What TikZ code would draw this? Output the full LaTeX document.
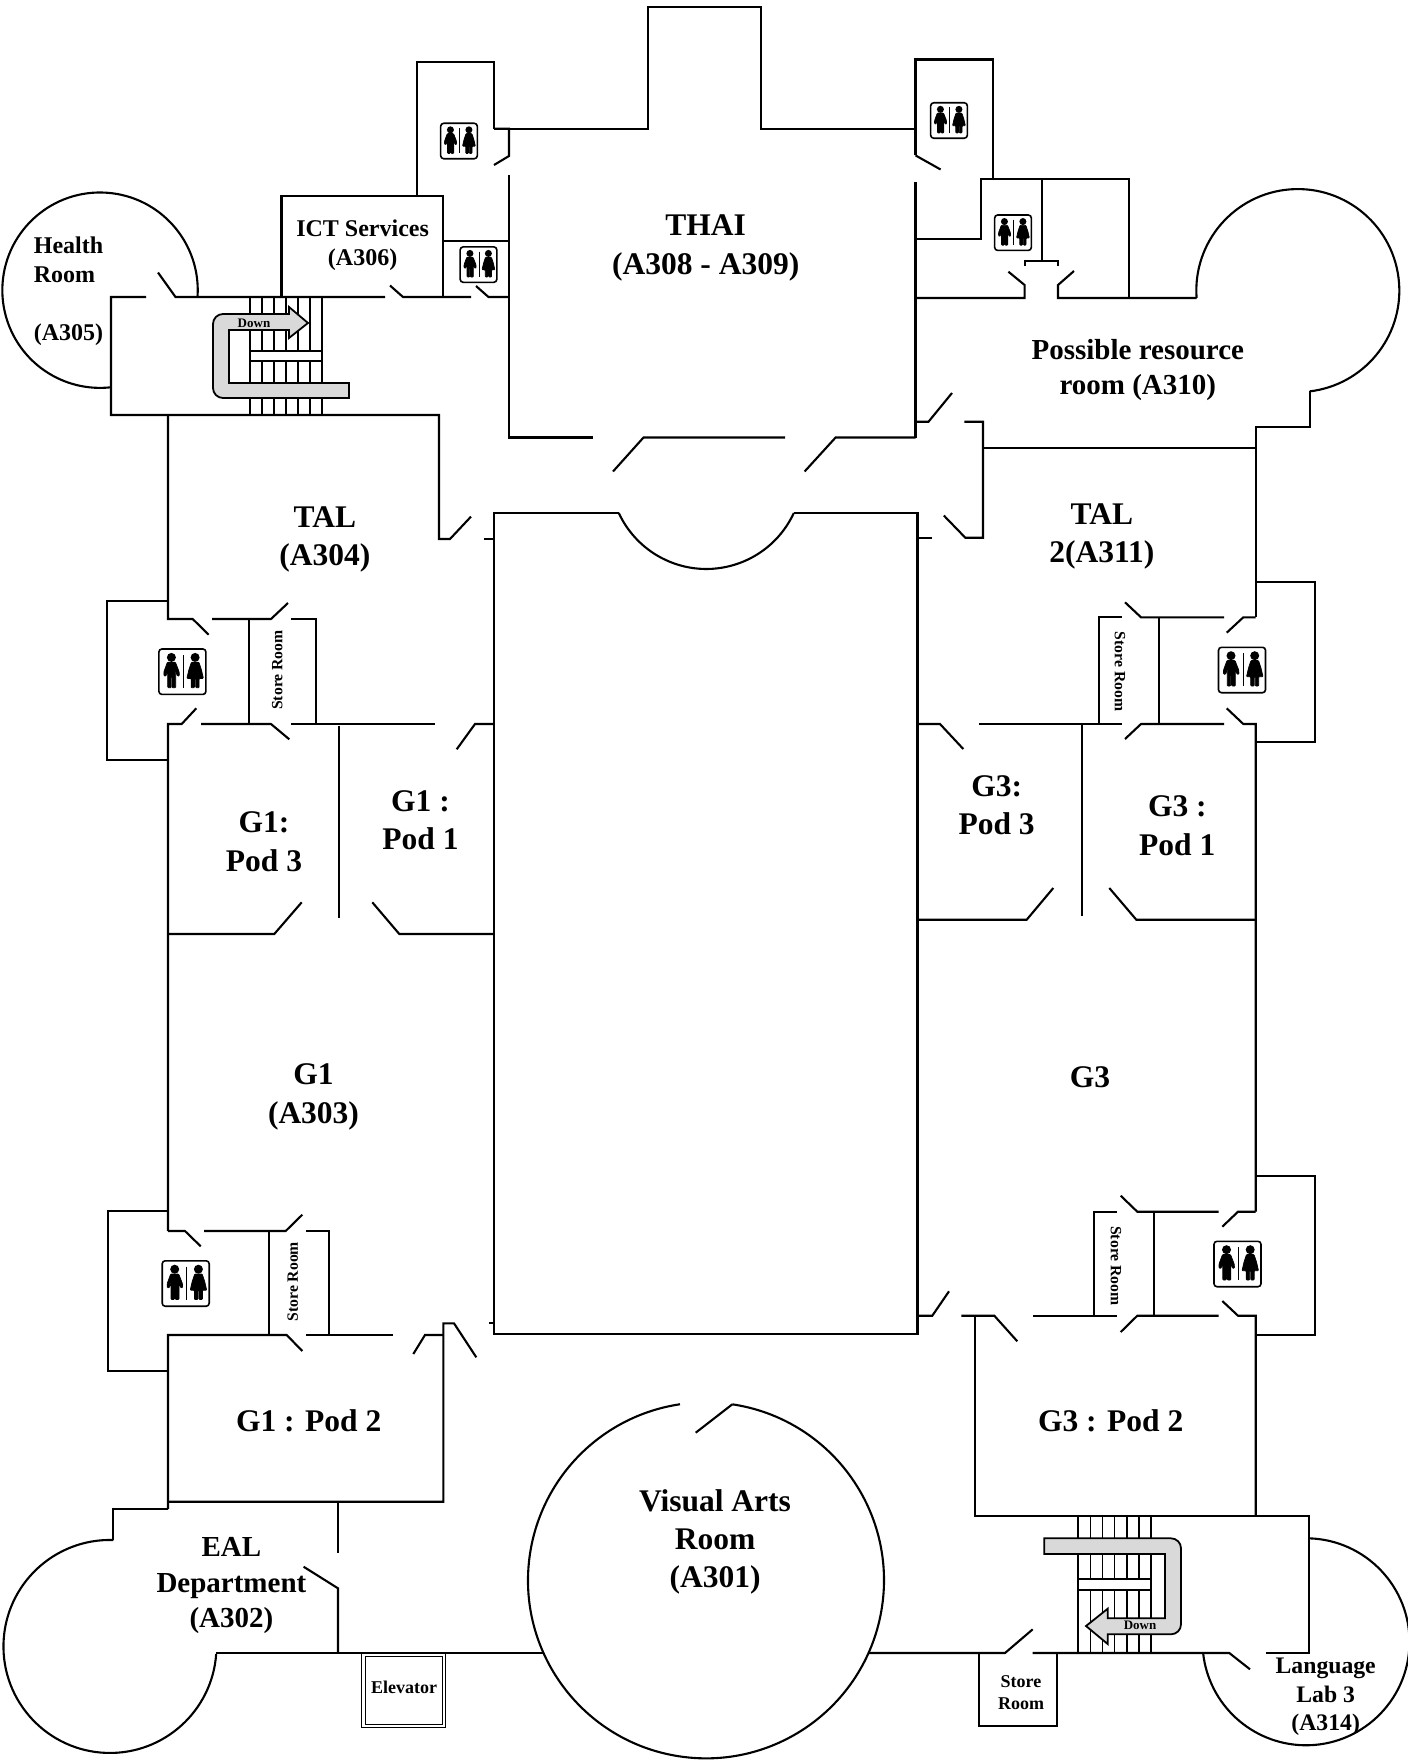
\documentclass[tikz,border=0pt]{standalone}
\usepackage{fontspec}
\setmainfont{Liberation Serif}
\usepackage{xcolor}

\newcommand{\wcsign}[3]{%
  \begin{scope}[shift={(#1,#2)},scale=#3]
    \draw [line width=1.6pt, rounded corners=3pt] (-23.5,-22.7) rectangle (23.5,22.7);
    \fill (-11,-14.3) circle [radius=4.5];
    \fill (12.7,-14.3) circle [radius=4.5];
    \filldraw [line width=0.7pt, rounded corners=0.8pt] (-15,-9.5) -- (-7,-9.5) -- (-3.3,0) -- (-3,4) -- (-4.8,4.5) -- (-6.7,-1) -- (-6.7,16) -- (-10.3,16) -- (-10.3,5)
      -- (-11.3,5) -- (-11.3,16) -- (-14.7,16) -- (-14.7,-1) -- (-16.6,4.5) -- (-18.5,4) -- (-18.5,0) -- cycle;
    \filldraw [line width=0.7pt, rounded corners=0.8pt] (9,-9.5) -- (16.5,-9.5) -- (19,-2) -- (21,6.7) -- (16.7,6.7) -- (16.7,16) -- (13.3,16)
      -- (13.3,6.7) -- (12.1,6.7) -- (12.1,16) -- (8.7,16) -- (8.7,6.7) -- (4.5,6.7) -- (6.5,-2) -- cycle;
    \draw [line width=1pt] (1,-16.7) -- (1,16);
  \end{scope}%
}

\begin{document}
\begin{tikzpicture}[
  x=1pt, y=-1pt,
  wall/.style={line width=2.1pt, line join=miter},
  stepline/.style={line width=1.7pt},
  downarrow/.style={line width=1.8pt, fill=gray!30, draw=black},
  rmlabel/.style={font=\bfseries\fontsize{31.5}{38.5}\selectfont, align=center, inner sep=0pt},
  rmmid/.style={font=\bfseries\fontsize{29}{35.5}\selectfont, align=center, inner sep=0pt},
  rmsmall/.style={font=\bfseries\fontsize{24}{29}\selectfont, align=center, inner sep=0pt},
  rmtiny/.style={font=\bfseries\fontsize{18}{22}\selectfont, align=center, inner sep=0pt},
  rmside/.style={font=\bfseries\fontsize{15.7}{18}\selectfont, inner sep=0pt},
  rmdown/.style={font=\bfseries\fontsize{13}{15}\selectfont, inner sep=0pt}
]

\useasboundingbox (0,0) rectangle (1408,1762);

% centre block and thai room
\draw [wall] (618.8,513) -- (494,513) -- (494,1334) -- (917.5,1334) -- (917.5,513) -- (793.8,513);
\draw [wall] (793.8,513) arc [start angle=24.8, end angle=155.2, radius=96.4];
\draw [wall] (494,128.6) -- (648,128.6) -- (648,7) -- (761,7) -- (761,128.6) -- (915.5,128.6);
\draw [wall] (494,128.6) -- (509,128.6) -- (509,156) -- (494,165);
\draw [wall] (509,175) -- (509,437.5) -- (593,437.5);
\draw [wall] (613,471.5) -- (643.5,437.5) -- (785,437.5);
\draw [wall] (804.6,471.5) -- (835.6,437.5) -- (915.5,437.5);
\draw [wall] (915.5,182) -- (915.5,437.5);
\draw [wall] (915.5,155.4) -- (940.6,169.5);

% top left
\draw [wall] (417,196) -- (417,61.6) -- (494,61.6) -- (494,128.6);
\draw [wall] (281.5,297) -- (281.5,196) -- (443,196) -- (443,297);
\draw [wall] (443,241) -- (509,241);
\draw [wall] (197.5,297) arc [start angle=4, end angle=-276.4, radius=97.7];
\draw [wall] (146,297) -- (111,297) -- (111,415) -- (439,415) -- (439,539) -- (450,539) -- (471,516.6);
\draw [wall] (158,272.5) -- (175.5,297) -- (385,297);
\draw [wall] (390,285.5) -- (403,297) -- (471,297);
\draw [wall] (476,286) -- (488.5,297) -- (509,297);
\draw [wall] (483.6,539) -- (494,539);

% top right
\draw [wall] (915.5,155.4) -- (915.5,59.5) -- (993,59.5) -- (993,179);
\draw [wall] (915.5,239) -- (980.6,239) -- (980.6,179) -- (1129,179) -- (1129,298);
\draw [wall] (1042,179) -- (1042,261.4);
\draw [wall] (1024.6,266) -- (1024.6,261.4) -- (1058,261.4) -- (1058,266);
\draw [wall] (915.5,298) -- (1024.6,298) -- (1024.6,285) -- (1008.4,271.7);
\draw [wall] (1074,271) -- (1058,285) -- (1058,298) -- (1196.6,298);
\draw [wall] (1196.6,298) arc [start angle=175.8, end angle=443.3, radius=101.5];
\draw [wall] (1309.8,391) -- (1309.8,427) -- (1255.7,427) -- (1255.7,617.3);
\draw [wall] (983,448) -- (1255.7,448);
\draw [wall] (964.4,421.7) -- (983,421.7) -- (983,537.7) -- (965.3,537.7) -- (943.8,515.5);
\draw [wall] (915.5,421.7) -- (928.5,421.7) -- (952,393);
\draw [wall] (917.5,537.7) -- (931.7,537.7);

% left side upper
\draw [wall] (168,415) -- (168,619) -- (192.7,619) -- (208.7,634.7);
\draw [wall] (212,619) -- (271,619) -- (288,603);
\draw [wall] (291,619) -- (315.7,619) -- (315.7,724);
\draw [wall] (168,600.7) -- (106.7,600.7) -- (106.7,760) -- (168,760);
\draw [wall] (249.3,619) -- (249.3,724);
\draw [wall] (168,1231) -- (168,724) -- (181.7,724) -- (196.3,708.3);
\draw [wall] (201,724) -- (271,724) -- (289.3,739.3);
\draw [wall] (291,724) -- (435,724);
\draw [wall] (456.7,749.3) -- (475,724) -- (494,724);
\draw [wall] (339,725.7) -- (339,917.7);
\draw [wall] (168,934) -- (274.3,934) -- (301.7,902.3);
\draw [wall] (494,934) -- (399.3,934) -- (372.3,902.3);

% left side lower
\draw [wall] (168,1211) -- (108.3,1211) -- (108.3,1371) -- (168,1371);
\draw [wall] (168,1231) -- (185,1231) -- (200.7,1246.3);
\draw [wall] (204,1231) -- (285.7,1231) -- (302.3,1214.7);
\draw [wall] (306,1231) -- (328.7,1231) -- (328.7,1335);
\draw [wall] (268.7,1231) -- (268.7,1335);
\draw [wall] (168,1509) -- (168,1335) -- (286.7,1335) -- (302.3,1351);
\draw [wall] (306,1335) -- (392.7,1335);
\draw [wall] (413.3,1354) -- (425,1335) -- (443.3,1335);
\draw [wall] (476.3,1357.3) -- (454,1323.3) -- (443.3,1323.3) -- (443.3,1501.7) -- (168,1501.7);
\draw [wall] (489.3,1323.3) -- (494,1323.3);

% bottom left
\draw [wall] (168,1509) -- (113.3,1509) -- (113.3,1540);
\draw [wall] (113.3,1540) arc [start angle=-88.2, end angle=-356, radius=106.5];
\draw [wall] (338,1501.7) -- (338,1553.3);
\draw [wall] (303.6,1566.7) -- (338,1588.3) -- (338,1653);
\draw [wall] (216,1653) -- (543,1653);

% visual arts room
\draw [wall] (732.3,1404.3) arc [start angle=-81.5, end angle=261.6, radius=178];
\draw [wall] (732.3,1404.3) -- (695.7,1432.7);

% right side upper
\draw [wall] (1122,724) -- (979,724);
\draw [wall] (918,724) -- (940,724) -- (963.3,749);
\draw [wall] (1125,739) -- (1141,724) -- (1224,724);
\draw [wall] (1226.7,708.3) -- (1243.3,724) -- (1255.7,724) -- (1255.7,1211.7);
\draw [wall] (1082,724) -- (1082,916.3);
\draw [wall] (1098.7,724) -- (1098.7,617.3) -- (1122,617.3);
\draw [wall] (1125,602.3) -- (1141,617.3) -- (1224,617.3);
\draw [wall] (1226.7,632.7) -- (1243.3,617.3) -- (1255.7,617.3);
\draw [wall] (1158.7,617.3) -- (1158.7,724);
\draw [wall] (1255.7,581.7) -- (1315,581.7) -- (1315,741.7) -- (1255.7,741.7);
\draw [wall] (918,919.7) -- (1026.7,919.7) -- (1053.3,888);
\draw [wall] (1255.7,919.7) -- (1136.3,919.7) -- (1109.3,888);

% right side lower
\draw [wall] (1255.7,1175.7) -- (1314.7,1175.7) -- (1314.7,1335.3) -- (1255.7,1335.3);
\draw [wall] (1116.7,1211.7) -- (1094,1211.7) -- (1094,1315.7);
\draw [wall] (1120.7,1195.7) -- (1137.3,1211.7) -- (1218.7,1211.7);
\draw [wall] (1222.3,1226.7) -- (1238,1211.7) -- (1255.7,1211.7);
\draw [wall] (1154.3,1211.7) -- (1154.3,1315.7);
\draw [wall] (1033.3,1315.7) -- (1116.7,1315.7);
\draw [wall] (1120.7,1332) -- (1137.3,1315.7) -- (1218.7,1315.7);
\draw [wall] (1222.3,1301) -- (1238,1315.7) -- (1255.7,1315.7) -- (1255.7,1516);
\draw [wall] (961.3,1315.7) -- (994.3,1315.7) -- (1017.3,1341.3);
\draw [wall] (974.7,1315.7) -- (974.7,1515.7) -- (1308.7,1515.7) -- (1308.7,1653) -- (1266,1653);
\draw [wall] (917.5,1315.7) -- (932.3,1315.7) -- (949,1291.3);

% bottom right
\draw [wall] (868,1653) -- (1005,1653) -- (1032.7,1629.3);
\draw [wall] (1032.7,1653) -- (1229.3,1653) -- (1250,1669.3);
\draw [wall] (979,1653) -- (979,1725.7) -- (1057,1725.7) -- (1057,1653);
\draw [wall] (1308.7,1538.3) arc [start angle=-88.5, end angle=173.7, radius=103.5];

% elevator
\draw [line width=1pt] (361.8,1653) rectangle (445.4,1727.7);
\draw [line width=1pt] (365,1656.5) rectangle (442.2,1724.2);

% stairs
\foreach \stepx in {250,262,274,286,298,310,322}
  \draw [stepline] (\stepx,297) -- (\stepx,416);
\foreach \stepx in {1078.3,1090.4,1102.5,1114.6,1126.7,1138.8,1151}
  \draw [stepline] (\stepx,1516) -- (\stepx,1653);
\draw [stepline, fill=white] (250,351) rectangle (322,361);
\draw [stepline, fill=white] (1078.3,1579) rectangle (1151,1590);

\draw [downarrow] (349,383) -- (349,398) [rounded corners=10pt] -- (213,398) -- (213,314) [rounded corners=0pt]
  -- (289,314) -- (289,307) -- (308,323) -- (289,338) -- (289,330) -- (229,330) -- (229,383) -- cycle;
\draw [downarrow] (1044.3,1538.3) -- (1044.3,1554) -- (1165,1554) -- (1165,1618.3) -- (1107.7,1618.3) -- (1107.7,1608.7)
  -- (1086,1626) -- (1107.7,1644) -- (1107.7,1634.3) [rounded corners=10pt] -- (1181,1634.3) -- (1181,1538.3)
  [rounded corners=0pt] -- cycle;

% toilets
\wcsign{459}{141}{0.78}
\wcsign{478.5}{264.6}{0.78}
\wcsign{949}{120.5}{0.78}
\wcsign{1013}{232.7}{0.78}
\wcsign{182.4}{671.7}{1}
\wcsign{1242}{670}{1}
\wcsign{185.7}{1283.5}{1}
\wcsign{1237.5}{1264}{1}

% room names
\node [rmdown] (downa) at (254,323) {Down};
\node [rmdown] (downb) at (1140,1625.7) {Down};
\node [rmsmall, align=left] (health) at (68.5,291.5) {Health\\Room\\[29pt](A305)};
\node [rmsmall] (ict) at (362.6,245.5) {ICT Services\\(A306)};
\node [rmlabel] (thai) at (705.7,248) {THAI\\(A308 - A309)};
\node [rmmid] (resource) at (1137.8,370) {Possible resource\\room (A310)};
\node [rmlabel] (tala) at (324.9,539.5) {TAL\\(A304)};
\node [rmlabel] (talb) at (1101.9,536.5) {TAL\\2(A311)};
\node [rmlabel] (gapthree) at (264,841.5) {G1:\\Pod 3};
\node [rmlabel] (gaone) at (420.5,820) {G1 :\\Pod 1};
\node [rmlabel] (gcthree) at (996.7,805) {G3:\\Pod 3};
\node [rmlabel] (gcone) at (1177.3,825.5) {G3 :\\Pod 1};
\node [rmlabel] (ga) at (313.5,1097) {G1\\(A303)};
\node [rmlabel] (gc) at (1090,1077.5) {G3};
\node [rmlabel] (gatwo) at (308.7,1420.7) {G1 : Pod 2};
\node [rmlabel] (gctwo) at (1110.7,1420.7) {G3 : Pod 2};
\node [rmmid] (eal) at (231.4,1585.5) {EAL\\Department\\(A302)};
\node [rmlabel, font=\bfseries\fontsize{31.5}{38}\selectfont] (visual) at (715,1541.5) {Visual Arts\\Room\\(A301)};
\node [rmsmall, font=\bfseries\fontsize{23.7}{28.5}\selectfont] (lang) at (1325.7,1697) {Language\\Lab 3\\(A314)};
\node [rmtiny] (elev) at (404,1687) {Elevator};
\node [rmtiny] (store) at (1021,1692.5) {Store\\Room};
\node [rmside, rotate=90] (storea) at (277.3,670) {Store Room};
\node [rmside, rotate=-90] (storeb) at (1120,671.7) {Store Room};
\node [rmside, rotate=90] (storec) at (292.7,1281.7) {Store Room};
\node [rmside, rotate=-90] (stored) at (1116,1266) {Store Room};

\end{tikzpicture}
\end{document}
